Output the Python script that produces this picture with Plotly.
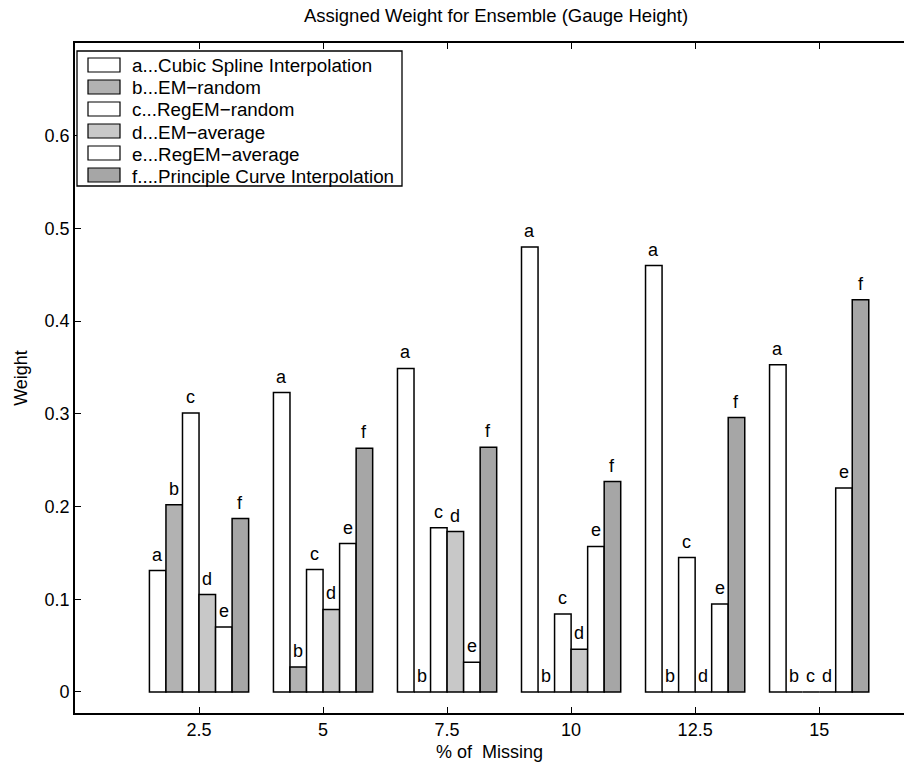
import plotly.graph_objects as go

# ---- data ----
missing_pct = [2.5, 5, 7.5, 10, 12.5, 15]
series_names = [
    "a...Cubic Spline Interpolation",
    "b...EM\u2212random",
    "c...RegEM\u2212random",
    "d...EM\u2212average",
    "e...RegEM\u2212average",
    "f....Principle Curve Interpolation",
]
series_letters = ["a", "b", "c", "d", "e", "f"]
w_cubic_spline = [0.131, 0.323, 0.349, 0.480, 0.460, 0.353]
w_em_random = [0.202, 0.027, 0.000, 0.000, 0.000, 0.000]
w_regem_random = [0.301, 0.132, 0.177, 0.084, 0.145, 0.000]
w_em_average = [0.105, 0.089, 0.173, 0.046, 0.000, 0.000]
w_regem_average = [0.070, 0.160, 0.032, 0.157, 0.095, 0.220]
w_principal_curve = [0.187, 0.263, 0.264, 0.227, 0.296, 0.423]
x_ticks = [2.5, 5, 7.5, 10, 12.5, 15]
y_ticks = [0, 0.1, 0.2, 0.3, 0.4, 0.5, 0.6]

series_values = [w_cubic_spline, w_em_random, w_regem_random,
                 w_em_average, w_regem_average, w_principal_curve]
fill_colors = ["#ffffff", "#b2b2b2", "#ffffff", "#c8c8c8", "#ffffff", "#a6a6a6"]

FONT = "Liberation Sans, Arial, sans-serif"
FS = 18
BARGAP = 0.2
n_series = len(series_values)
group_spacing = missing_pct[1] - missing_pct[0]
bar_w = group_spacing * (1 - BARGAP) / n_series

# plot-area pixel geometry (for converting the legend layout to paper coords)
W, H = 904, 765
ML, MR, MT, MB = 75, 0, 43, 52
PW, PH = W - ML - MR, H - MT - MB


def px_x(X):
    return (X - ML) / PW


def px_y(Y):
    return (H - MB - Y) / PH


fig = go.Figure()
for name, vals, col in zip(series_names, series_values, fill_colors):
    fig.add_trace(go.Bar(
        x=missing_pct, y=vals, name=name,
        marker=dict(color=col, line=dict(color="black", width=1.5)),
        hoverinfo="skip", showlegend=False,
    ))

annotations = []
# letters above every bar
for i, (letter, vals) in enumerate(zip(series_letters, series_values)):
    for xv, yv in zip(missing_pct, vals):
        annotations.append(dict(
            x=xv + (i - (n_series - 1) / 2) * bar_w, y=yv, xref="x", yref="y",
            text=letter, showarrow=False, xanchor="center", yanchor="middle",
            yshift=16, font=dict(family=FONT, size=FS, color="black"),
        ))

# legend drawn as a box with swatches and texts
shapes = [dict(type="rect", xref="paper", yref="paper",
               x0=px_x(77), x1=px_x(402), y0=px_y(186), y1=px_y(51),
               line=dict(color="black", width=1.3), fillcolor="white", layer="above")]
for k, (name, col) in enumerate(zip(series_names, fill_colors)):
    yc = 65 + 22 * k
    shapes.append(dict(type="rect", xref="paper", yref="paper",
                       x0=px_x(88), x1=px_x(120), y0=px_y(yc + 7), y1=px_y(yc - 7),
                       line=dict(color="black", width=1.2), fillcolor=col, layer="above"))
    annotations.append(dict(x=px_x(130), y=px_y(yc + 1), xref="paper", yref="paper",
                            text=name, showarrow=False, xanchor="left", yanchor="middle",
                            font=dict(family=FONT, size=18.8, color="black")))

fig.update_layout(
    width=W, height=H,
    margin=dict(l=ML, r=MR, t=MT, b=MB),
    paper_bgcolor="white", plot_bgcolor="white",
    barmode="group", bargap=BARGAP, bargroupgap=0,
    font=dict(family=FONT, size=FS, color="black"),
    title=dict(text="Assigned Weight for Ensemble (Gauge Height)",
               x=px_x(496), xref="paper", xanchor="center",
               y=1 - 16 / H, yref="container", yanchor="middle",
               font=dict(family=FONT, size=18.5, color="black")),
    showlegend=False,
    shapes=shapes,
    annotations=annotations,
)

fig.update_xaxes(
    range=[0, 16.71], tickvals=x_ticks, ticktext=[str(v) for v in x_ticks],
    ticks="inside", ticklen=6, tickcolor="black", tickwidth=1.2,
    showline=True, linecolor="black", linewidth=1.6, mirror="ticks",
    showgrid=False, zeroline=False,
    title=dict(text="% of  Missing", standoff=6, font=dict(family=FONT, size=FS)),
    tickfont=dict(family=FONT, size=FS),
)
fig.update_yaxes(
    range=[-0.0227, 0.700], tickvals=y_ticks,
    ticktext=["0", "0.1", "0.2", "0.3", "0.4", "0.5", "0.6"],
    ticks="inside", ticklen=6, tickcolor="black", tickwidth=1.2,
    showline=True, linecolor="black", linewidth=1.6, mirror=False,
    showgrid=False, zeroline=False,
    title=dict(text="Weight", standoff=12, font=dict(family=FONT, size=FS)),
    tickfont=dict(family=FONT, size=FS),
)

fig.write_html("out.html")
